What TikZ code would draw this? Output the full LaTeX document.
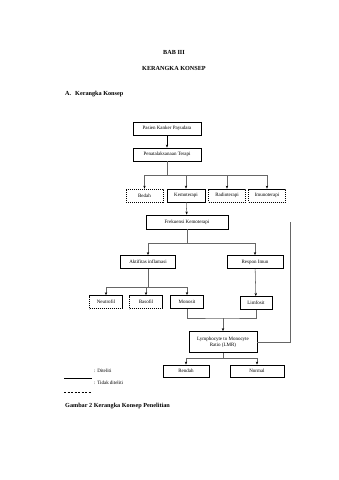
\documentclass[tikz,border=0pt]{standalone}
\usepackage{fontspec}
\setmainfont{Liberation Serif}
\usepackage{tikz}
\usetikzlibrary{arrows.meta,positioning,calc}

\begin{document}
\begin{tikzpicture}[x=1pt,y=-1pt,
  txt/.style={font=\fontsize{6.2}{7}\selectfont\bfseries,inner sep=0pt},
  box/.style={rectangle,draw,line width=0.9pt,align=center,inner sep=1pt,minimum height=13pt,font=\fontsize{5}{5.8}\selectfont},
  nbox/.style={box,line width=0.7pt,dash pattern=on 1.2pt off 0.8pt},
  ln/.style={draw=black!60,line width=0.55pt},
  arr/.style={ln,-{Stealth[length=3pt,width=2.4pt,color=black]}}]
\useasboundingbox (0,0) rectangle (339,480);
% headings
\node[txt] (bab) at (174,52) {BAB III};
\node[txt] (judul) at (174,68) {KERANGKA KONSEP};
\node[txt,anchor=west] (sub) at (65,94) {A.\hspace{4pt}Kerangka Konsep};
% boxes
\node[box,minimum width=68pt] (pasien) at (167,128.5) {Pasien Kanker Payudara};
\node[box,minimum width=68pt] (terapi) at (167,154.5) {Penatalaksanaan Terapi};
\node[nbox,minimum width=37pt] (bedah) at (144.5,195.5) {Bedah};
\node[box,minimum width=38pt] (kemo) at (186,195.5) {Kemoterapi};
\node[nbox,minimum width=37pt] (radio) at (227,195.5) {Radioterapi};
\node[nbox,minimum width=37pt] (imuno) at (267,195.5) {Imunoterapi};
\node[box,minimum width=82pt,minimum height=14pt] (frek) at (187,222) {Frekuensi Kemoterapi};
\node[box,minimum width=55pt] (aktif) at (148,262) {Aktifitas inflamasi};
\node[box,minimum width=56pt] (respon) at (255,262) {Respon Imun};
\node[nbox,minimum width=33pt] (neutro) at (106,302) {Neutrofil};
\node[nbox,minimum width=33pt] (baso) at (146,302) {Basofil};
\node[box,minimum width=33pt] (mono) at (187,302) {Monosit};
\node[box,minimum width=32pt] (limfo) at (256,303) {Limfosit};
\node[box,minimum width=68pt,minimum height=21pt] (lmr) at (223,342) {Lymphocyte to Monocyte\\Ratio (LMR)};
\node[box,minimum width=46pt,minimum height=12pt] (rendah) at (186,371) {Rendah};
\node[box,minimum width=54pt,minimum height=12pt] (normal) at (257,371) {Normal};
% bus points
\coordinate (bus1) at (167,175);
\coordinate (bus2) at (187,243);
\coordinate (bus3) at (148,287);
\coordinate (gabung) at (223,318);
\coordinate (bus4) at (223,358);
\coordinate (samping) at (290,222);
% connectors
\draw[arr,draw=black,line width=0.8pt] (pasien) -- (terapi);
\draw[ln] (terapi) -- (bus1);
\draw[ln] (bedah |- bus1) -- (imuno |- bus1);
\foreach \n in {bedah,kemo,radio,imuno} \draw[arr] (\n |- bus1) -- (\n);
\draw[arr] (kemo) -- (frek);
\draw[ln] (frek) -- (bus2);
\draw[ln] (aktif |- bus2) -- (respon |- bus2);
\foreach \n in {aktif,respon} \draw[arr] (\n |- bus2) -- (\n);
\draw[ln] (aktif) -- (bus3);
\draw[ln] (neutro |- bus3) -- (mono |- bus3);
\foreach \n in {neutro,baso,mono} \draw[arr] (\n |- bus3) -- (\n);
\draw[arr] (respon) -- (limfo);
\draw[ln] (mono.south) |- (gabung) -| (limfo.south);
\draw[arr] (gabung) -- (lmr);
\draw[ln] (samping) |- (lmr.east);
\draw[ln] (lmr) -- (bus4);
\draw[ln] (rendah |- bus4) -- (normal |- bus4);
\foreach \n in {rendah,normal} \draw[arr] (\n |- bus4) -- (\n);
% legend
\draw[line width=0.8pt] (64,378) -- (92,378);
\draw[line width=0.8pt,dash pattern=on 2pt off 1.5pt] (64,392) -- (92,392);
\node[anchor=west,inner sep=0pt,font=\fontsize{5}{5.8}\selectfont] (ket1) at (94,371) {: Diteliti};
\node[anchor=west,inner sep=0pt,font=\fontsize{5}{5.8}\selectfont] (ket2) at (94,383) {: Tidak diteliti};
\node[txt,anchor=west] (gambar) at (65,406) {Gambar 2 Kerangka Konsep Penelitian};
\end{tikzpicture}
\end{document}
